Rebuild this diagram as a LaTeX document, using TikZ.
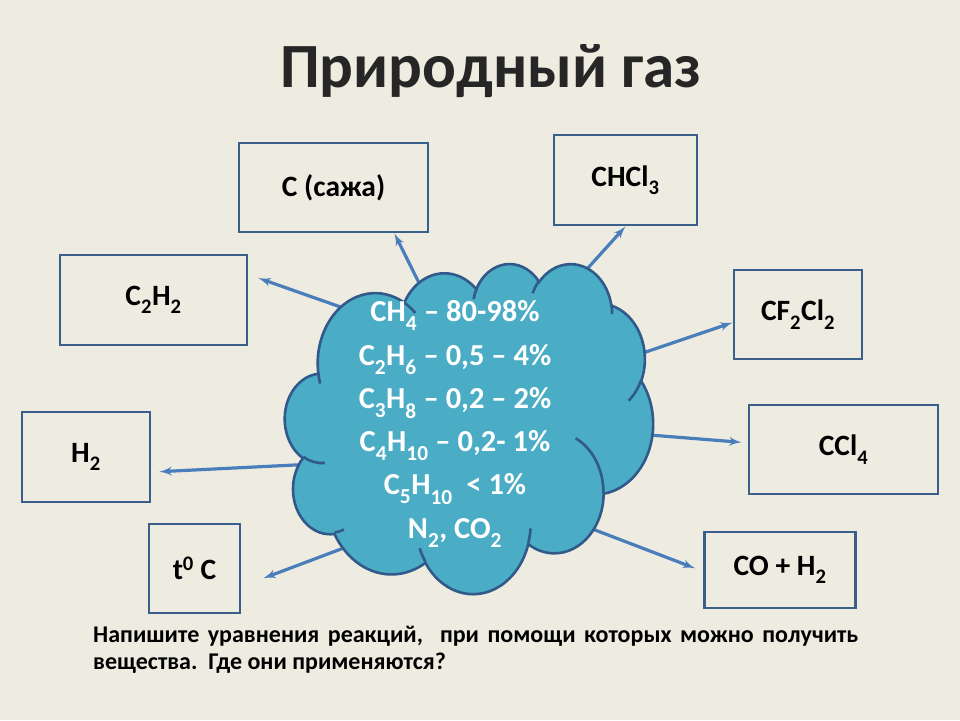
\documentclass[tikz,border=0pt]{standalone}
\usepackage{fontspec}
\setmainfont{Carlito}
\usepackage{tikz}
\usetikzlibrary{arrows, positioning}
\definecolor{slidebg}{HTML}{EEECE1}
\definecolor{boxblue}{HTML}{3A5F8D}
\definecolor{arrowblue}{HTML}{4A7EBB}
\definecolor{gasfill}{HTML}{4BACC6}
\definecolor{gasedge}{HTML}{31598A}
\definecolor{titlegray}{HTML}{262626}
\newcommand{\low}[1]{\raisebox{-.12em}{\textsubscript{#1}}}
\tikzset{
  >=latex',
  heading/.style={text=titlegray, font=\fontsize{63}{63}\selectfont\bfseries, inner sep=0pt},
  product/.style={draw=boxblue, line width=2.8pt, minimum height=89, inner sep=0pt,
    font=\fontsize{29.5}{30}\selectfont\bfseries},
  feed/.style={->, draw=arrowblue, line width=3.2pt},
  gasbody/.style={fill=gasfill, draw=gasedge, line width=2.6pt},
  gasline/.style={draw=gasedge, line width=2.6pt},
  mix/.style={text=white, align=center, inner sep=0pt, font=\fontsize{30.5}{43.3}\selectfont\bfseries},
  task/.style={text width=765, align=justify, inner sep=0pt, font=\fontsize{24}{27}\selectfont\bfseries},
  % arc of the cloud, angles as in the slide file
  /pgf/foreach/cloudarc/.style={
    /pgf/foreach/evaluate=\s as \ts using {atan2(\w*sin(\s),\h*cos(\s))},
    /pgf/foreach/evaluate=\d as \ds using {Mod(atan2(\w*sin(\s+\d),\h*cos(\s+\d))-\ts,360)}},
}

\begin{document}
\begin{tikzpicture}[x=1pt, y=1pt, yscale=-1]
        \fill[slidebg] (0,0) rectangle (960,720);
        \useasboundingbox (0,0) rectangle (960,720);

        % title
        \node[heading, anchor=base] (title) at (491,87) {Природный газ};

        % products
        \node[product, minimum width=189] (sazha) at (333.5,187.5) {C (сажа)};
        \node[product, minimum width=143, minimum height=90] (chcl) at (625.5,180) {CHCl\low{3}};
        \node[product, minimum width=187, minimum height=90] (ctwo) at (153.5,300) {C\low{2}H\low{2}};
        \node[product, minimum width=128, minimum height=90] (htwo) at (86,457) {H\low{2}};
        \node[product, minimum width=91] (temp) at (194.5,568.5) {t\textsuperscript{0} C};
        \node[product, minimum width=128] (cfcl) at (798,314.5) {CF\low{2}Cl\low{2}};
        \node[product, minimum width=189] (ccl) at (843.5,449.5) {CCl\low{4}};
        \node[product, minimum width=151, minimum height=76] (coh) at (780,570) {CO + H\low{2}};

        % where the arrows leave the cloud
        \coordinate (from-sazha) at (425,295);
        \coordinate (from-chcl) at (578,279);
        \coordinate (from-ctwo) at (352,311);
        \coordinate (from-htwo) at (315,464);
        \coordinate (from-temp) at (357,543);
        \coordinate (from-cfcl) at (631,357);
        \coordinate (from-ccl) at (637,434);
        \coordinate (from-coh) at (582,525);

        % arrows
        \draw[feed] (from-sazha) -- (sazha.-37);
        \draw[feed] (from-chcl) -- (chcl.south);
        \draw[feed, shorten >=10.6pt] (from-ctwo) -- (ctwo.15);
        \draw[feed, shorten >=8pt] (from-htwo) -- (htwo.-13.5);
        \draw[feed, shorten >=23.5pt] (from-temp) -- (temp.-21);
        \draw[feed] (from-cfcl) -- (cfcl.-173);
        \draw[feed, shorten >=6pt] (from-ccl) -- (ccl.176.4);
        \draw[feed, shorten >=8.6pt] (from-coh) -- (coh.181.5);

        % cloud
        \begin{scope}[shift={(285,263)}, xscale=368/432, yscale=330/432]
          \filldraw[gasbody] (39.00,143.70)
            \foreach \w/\h/\s/\d [cloudarc] in {67.53/91.90/-190.487/123.781,
              53.33/72.67/-144.102/89.945, 43.65/59.45/-145.808/99.723,
              48.57/65.95/-130.986/117.242, 53.33/72.73/-78.709/109.027,
              67.75/92.20/-46.267/130.269, 57.85/78.67/0.625/114.033,
              67.52/92.15/22.452/115.173, 77.20/105.43/66.243/75.711,
              43.60/59.18/-274.942/146.736, 43.45/59.45/-246.829/152.519}
            { arc[x radius=\w, y radius=\h, start angle=\ts, delta angle=\ds] } -- cycle;
          \draw[gasline]
            \foreach \px/\py/\w/\h/\s/\d [cloudarc] in {46.93/261.77/43.45/59.45/86.742/26.430,
              69.28/348.99/43.60/59.18/73.611/11.448, 164.78/390.90/67.52/92.15/137.624/14.081,
              288.27/347.51/67.52/92.15/6.453/15.998, 341.29/229.54/57.85/78.67/-70.292/70.917,
              417.98/153.54/53.33/72.73/30.318/27.752, 383.24/54.26/48.57/65.95/-13.744/14.859,
              290.78/39.52/48.57/65.95/-149.181/18.195, 221.41/47.20/43.65/59.45/-163.494/17.686,
              140.00/51.92/67.53/91.90/-66.707/12.319, 41.27/157.89/67.53/91.90/157.654/11.858}
            { (\px,\py) arc[x radius=\w, y radius=\h, start angle=\ts, delta angle=\ds] };
        \end{scope}

        % composition
        \node[mix] (gas) at (455,424) {CH\low{4} – 80-98\%\\
          C\low{2}H\low{6} – 0,5 – 4\%\\
          C\low{3}H\low{8} – 0,2 – 2\%\\
          C\low{4}H\low{10} – 0,2- 1\%\\
          C\low{5}H\low{10}\ \ {<} 1\%\\
          N\low{2}, CO\low{2}};

        % question
        \node[task, anchor=north west] (question) at (93,626)
          {Напишите уравнения реакций,\ \ при помощи которых можно получить\linebreak
           вещества.\ \ Где они применяются?};
\end{tikzpicture}
\end{document}
